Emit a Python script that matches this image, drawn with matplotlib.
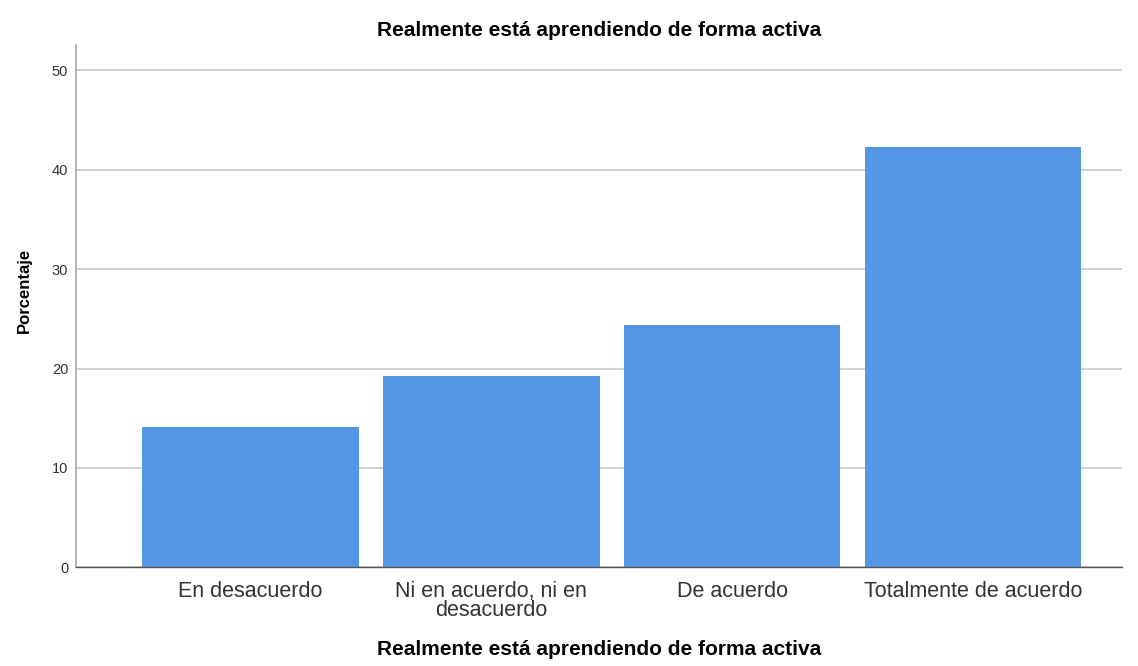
import matplotlib.pyplot as plt

plt.rcParams["font.family"] = ["Liberation Sans", "DejaVu Sans"]

# datos
categorias = ["En desacuerdo", "Ni en acuerdo, ni en\ndesacuerdo", "De acuerdo", "Totalmente de acuerdo"]
porcentajes = [14.1, 19.2, 24.4, 42.3]
yticks = [0, 10, 20, 30, 40, 50]
titulo = "Realmente está aprendiendo de forma activa"

fig = plt.figure(figsize=(11.38, 6.66), dpi=100)
ax = fig.add_axes([0.0672, 0.148, 0.919, 0.784])

x = list(range(len(categorias)))
ax.bar(x, porcentajes, width=0.9, color="#5596e6", zorder=2)

ax.set_xlim(-0.722, 3.62)
ax.set_ylim(0, 52.5)
ax.set_yticks(yticks)
ax.set_xticks(x)
ax.set_xticklabels(categorias, fontsize=15.5, color="#333333", linespacing=0.85)
ax.tick_params(axis="y", labelsize=10.5, length=0, pad=6, colors="#333333")
ax.tick_params(axis="x", length=0, pad=10)
ax.grid(axis="y", color="#c8c8c8", linewidth=1.2, zorder=0)

for s in ["top", "right"]:
    ax.spines[s].set_visible(False)
ax.spines["left"].set_color("#a8a8a8")
ax.spines["left"].set_linewidth(1.2)
ax.spines["bottom"].set_color("#555555")
ax.spines["bottom"].set_linewidth(1.0)

ax.set_title(titulo, fontsize=15, fontweight="bold", pad=7)
ax.set_xlabel(titulo, fontsize=15, fontweight="bold", labelpad=14)
ax.set_ylabel("Porcentaje", fontsize=12, fontweight="bold")
ax.yaxis.set_label_coords(-0.043, 0.53)

fig.savefig("out.png")
